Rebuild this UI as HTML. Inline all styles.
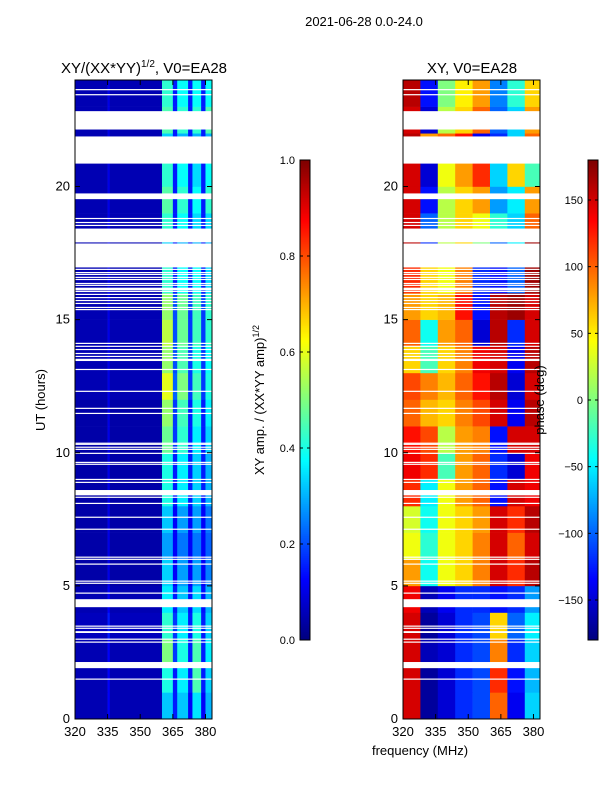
<!DOCTYPE html>
<html><head><meta charset="utf-8"><style>
body{margin:0;background:#fff;}
svg text{font-family:"Liberation Sans",sans-serif;fill:#000;}
</style></head><body>
<svg id="fig" width="600" height="800" viewBox="0 0 600 800" xmlns="http://www.w3.org/2000/svg"></svg>
<script>
// ---- data ----
const hours = [0,1,2,3,4,5,6,7,8,9,10,11,12,13,14,15,16,17,18,19,20,21,22,23];
const ampFreqEdges = [320,335,336,360,365,367,372,374,378,380,383];
const ampValues = [
[.05,.12,.05,.32,.15,.32,.12,.35,.12,.3],
[.05,.12,.05,.4,.15,.36,.15,.45,.15,.33],
[.05,.12,.05,.5,.18,.4,.15,.45,.15,.36],
[.06,.15,.06,.42,.18,.36,.15,.4,.15,.33],
[.05,.12,.05,.36,.15,.32,.14,.34,.14,.3],
[.04,.1,.04,.33,.12,.28,.12,.28,.12,.25],
[.04,.1,.04,.28,.12,.24,.12,.24,.12,.22],
[.04,.1,.04,.32,.12,.28,.12,.28,.12,.24],
[.04,.1,.04,.4,.15,.36,.15,.33,.15,.3],
[.04,.1,.04,.4,.15,.36,.15,.33,.15,.3],
[.04,.1,.04,.48,.18,.42,.15,.36,.15,.33],
[.04,.1,.04,.52,.18,.44,.15,.4,.15,.36],
[.05,.1,.05,.6,.22,.5,.18,.44,.18,.4],
[.05,.1,.05,.52,.2,.45,.18,.4,.18,.38],
[.05,.1,.05,.56,.2,.48,.18,.44,.18,.42],
[.05,.1,.05,.52,.2,.48,.18,.44,.18,.42],
[.05,.1,.05,.42,.15,.38,.15,.38,.15,.34],
[.05,.1,.05,.33,.15,.3,.15,.3,.15,.3],
[.05,.1,.05,.42,.15,.38,.15,.34,.15,.34],
[.05,.1,.05,.46,.15,.42,.15,.38,.15,.42],
[.05,.1,.05,.42,.15,.38,.15,.34,.15,.38],
[.05,.1,.05,.33,.15,.3,.15,.3,.15,.3],
[.05,.1,.05,.45,.15,.42,.15,.42,.15,.45],
[.05,.1,.05,.42,.15,.38,.15,.38,.15,.38]];
const phaseFreqEdges = [320,328,336,344,352,360,368,376,383];
const phaseValues = [
[150,-170,-150,-120,-110,100,-140,-60],
[150,-170,-150,-120,-110,120,-130,-70],
[150,-160,-150,-120,-110,90,-120,-60],
[150,-170,-150,-120,-110,60,-100,-50],
[140,-160,-140,-120,-120,-130,-120,-80],
[80,-40,40,60,90,150,120,160],
[40,-30,40,60,90,150,100,150],
[30,-40,40,60,80,150,120,160],
[120,-50,40,80,100,-130,150,140],
[140,120,-20,80,100,-120,-150,140],
[130,110,20,80,90,-130,150,150],
[100,70,60,90,110,150,-140,160],
[110,90,70,100,130,160,-150,150],
[60,-20,60,90,140,150,-140,160],
[100,-40,80,100,-150,160,-120,150],
[80,60,70,130,-130,160,170,150],
[120,60,40,90,-120,-130,-100,170],
[160,-120,20,60,0,-100,-50,170],
[150,-100,20,60,40,-30,-60,100],
[150,-130,20,60,80,-80,-50,80],
[150,-150,40,80,120,-60,60,-20],
[160,80,100,130,-140,-120,-60,100],
[150,-150,20,60,100,-100,-60,80],
[160,-130,0,50,80,-90,-30,60]];
const gapStart = [23.62,23.43,22.14,20.86,19.56,19.53,18.78,18.63,18.52,17.90,16.96,16.87,16.75,16.68,16.57,16.49,16.34,16.27,16.1,16.04,15.93,15.81,15.70,15.59,15.44,15.36,14.09,13.98,13.86,13.71,13.60,13.49,13.45,13.11,12.29,11.65,11.46,10.34,10.30,10.19,10.11,9.96,9.62,9.55,8.98,8.87,8.4,8.31,8.08,7.56,7.11,6.06,5.98,5.80,5.16,5.08,4.71,4.2,3.47,3.39,3.23,2.98,2.87,1.91,1.48];
const gapEnd   = [23.66,23.47,22.83,21.88,19.74,19.57,18.82,18.67,18.56,18.42,17.86,16.91,16.79,16.72,16.61,16.53,16.38,16.31,16.2,16.08,15.97,15.85,15.74,15.63,15.48,15.40,14.13,14.02,13.90,13.75,13.64,13.53,13.49,13.15,12.33,11.69,11.50,10.38,10.34,10.23,10.15,10.00,9.66,9.59,9.02,8.91,8.6,8.35,8.12,7.60,7.15,6.10,6.02,5.84,5.20,5.12,4.75,4.5,3.51,3.43,3.30,3.02,2.91,2.14,1.52];
const yTicks = [0,5,10,15,20];
const xTicks = [320,335,350,365,380];
const cb1Ticks = [0,0.2,0.4,0.6,0.8,1.0];
const cb1Labels = ["0.0","0.2","0.4","0.6","0.8","1.0"];
const cb2Ticks = [-150,-100,-50,0,50,100,150];
const cb2Labels = ["\u2212150","\u2212100","\u221250","0","50","100","150"];

// ---- helpers ----
const NS="http://www.w3.org/2000/svg";
const svg=document.getElementById('fig');
function mk(tag,attrs,parent){const e=document.createElementNS(NS,tag);for(const k in attrs)e.setAttribute(k,attrs[k]);(parent||svg).appendChild(e);return e;}
function jet(v){v=Math.max(0,Math.min(1,v));const c=x=>Math.round(255*Math.max(0,Math.min(1,1.5-Math.abs(x))));return `rgb(${c(4*v-3)},${c(4*v-2)},${c(4*v-1)})`;}
const Y0=719,Y1=80,HMAX=24;
const yS=h=>Y0-(h/HMAX)*(Y0-Y1);
const F0=320,F1=383;
function xS(px0){return f=>px0+(f-F0)/(F1-F0)*137;}

function panel(px0,name,freqEdges,values,colorFn){
  const g=mk('g',{});
  
  
  const x=xS(px0);
  hours.forEach((h,i)=>{
    for(let j=0;j<freqEdges.length-1;j++){
      const r=mk('rect',{x:x(freqEdges[j]),y:yS(h+1),width:x(freqEdges[j+1])-x(freqEdges[j])+0.3,height:yS(h)-yS(h+1)+0.3,fill:colorFn(values[i][j])},g);
      
      
    }
  });
  gapStart.forEach((s,k)=>{
    const r=mk('rect',{x:px0,y:yS(gapEnd[k]),width:137,height:Math.max(1.2,yS(s)-yS(gapEnd[k])),fill:'#fff'},g);
    
    
  });
  mk('rect',{x:px0,y:Y1,width:137,height:Y0-Y1,fill:'none',stroke:'#000','stroke-width':1},g);
  yTicks.forEach(t=>{
    mk('line',{x1:px0,x2:px0+5,y1:yS(t),y2:yS(t),stroke:'#000'},g);
    mk('line',{x1:px0+137,x2:px0+132,y1:yS(t),y2:yS(t),stroke:'#000'},g);
    const tx=mk('text',{x:px0-5,y:yS(t)+4,'font-size':13,'text-anchor':'end'},g);tx.textContent=t;
    
    
  });
  xTicks.forEach(t=>{
    mk('line',{x1:x(t),x2:x(t),y1:Y0,y2:Y0-5,stroke:'#000'},g);
    mk('line',{x1:x(t),x2:x(t),y1:Y1,y2:Y1+5,stroke:'#000'},g);
    const tx=mk('text',{x:x(t),y:736,'font-size':13,'text-anchor':'middle'},g);tx.textContent=t;
    
    
  });
}
panel(75,'amplitude-heatmap',ampFreqEdges,ampValues,v=>jet(v));
panel(403,'phase-heatmap',phaseFreqEdges,phaseValues,v=>jet((v+180)/360));

function colorbar(cx,name,ticks,labels,vmin,vmax){
  const g=mk('g',{});
  
  
  for(let i=0;i<240;i++){
    mk('rect',{x:cx,y:640-(i+1)*2,width:10,height:2.3,fill:jet(i/239)},g);
  }
  mk('rect',{x:cx,y:160,width:10,height:480,fill:'none',stroke:'#000'},g);
  ticks.forEach((t,k)=>{
    const yy=640-(t-vmin)/(vmax-vmin)*480;
    mk('line',{x1:cx,x2:cx+3,y1:yy,y2:yy,stroke:'#000'},g);
    mk('line',{x1:cx+10,x2:cx+7,y1:yy,y2:yy,stroke:'#000'},g);
    const tx=mk('text',{x:cx-5,y:yy+4,'font-size':11,'text-anchor':'end'},g);tx.textContent=labels[k];
    
    
  });
}
colorbar(300,'amplitude-colorbar',cb1Ticks,cb1Labels,0,1);
colorbar(588,'phase-colorbar',cb2Ticks,cb2Labels,-180,180);
</script>
<svg width="600" height="800" style="position:absolute;left:0;top:0" xmlns="http://www.w3.org/2000/svg">
<text x="364" y="26" font-size="13" text-anchor="middle">2021-06-28 0.0-24.0</text>
<text x="144" y="73" font-size="15" text-anchor="middle">XY/(XX*YY)<tspan font-size="10" dy="-6">1/2</tspan><tspan dy="6">, V0=EA28</tspan></text>
<text x="472" y="73" font-size="15" text-anchor="middle">XY, V0=EA28</text>
<text x="45" y="400" font-size="13" text-anchor="middle" transform="rotate(-90 45 400)">UT (hours)</text>
<text x="420" y="755" font-size="13" text-anchor="middle">frequency (MHz)</text>
<text x="264" y="400" font-size="13" text-anchor="middle" transform="rotate(-90 264 400)">XY amp. / (XX*YY amp)<tspan font-size="9" dy="-5">1/2</tspan></text>
<text x="544" y="400" font-size="13" text-anchor="middle" transform="rotate(-90 544 400)">phase (deg)</text>
</svg>
</body></html>
